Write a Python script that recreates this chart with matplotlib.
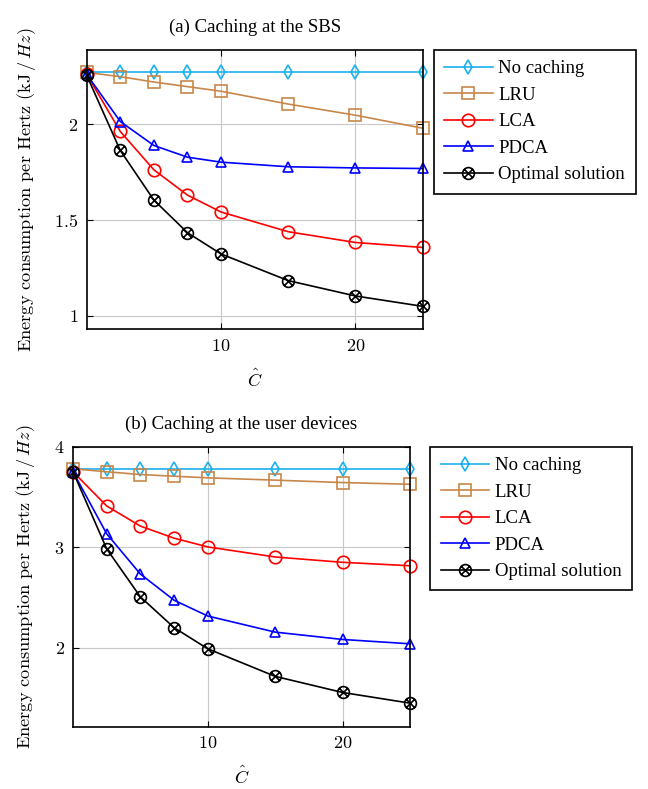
"""
Energy consumption per Hertz vs cache size, two panels.
"""

import matplotlib
matplotlib.use("Agg")
import matplotlib.pyplot as plt
from matplotlib.path import Path
import numpy as np

plt.rcParams['font.family'] = ['Liberation Serif', 'DejaVu Serif']
plt.rcParams['mathtext.fontset'] = 'cm'

cache_sizes = [0, 2.5, 5, 7.5, 10, 15, 20, 25]

# (a) caching at the SBS
sbs_no_caching = [2.27, 2.27, 2.27, 2.27, 2.27, 2.27, 2.27, 2.27]
sbs_lru = [2.27, 2.248, 2.22, 2.196, 2.172, 2.105, 2.047, 1.979]
sbs_lca = [2.26, 1.962, 1.762, 1.63, 1.542, 1.439, 1.383, 1.357]
sbs_pdca = [2.26, 2.014, 1.889, 1.828, 1.802, 1.778, 1.772, 1.769]
sbs_optimal = [2.255, 1.863, 1.604, 1.434, 1.323, 1.184, 1.104, 1.05]

# (b) caching at the user devices
ue_no_caching = [3.78, 3.78, 3.78, 3.78, 3.78, 3.78, 3.78, 3.78]
ue_lru = [3.78, 3.75, 3.723, 3.706, 3.69, 3.667, 3.643, 3.626]
ue_lca = [3.75, 3.41, 3.21, 3.09, 3.003, 2.903, 2.85, 2.816]
ue_pdca = [3.75, 3.133, 2.733, 2.473, 2.316, 2.156, 2.083, 2.04]
ue_optimal = [3.75, 2.983, 2.506, 2.2, 1.99, 1.716, 1.556, 1.45]

labels = ["No caching", "LRU", "LCA", "PDCA", "Optimal solution"]

# circle with a cross inside (otimes)
c = Path.unit_circle()
d = 0.707
cross = Path([(-d, -d), (d, d), (-d, d), (d, -d)],
             [Path.MOVETO, Path.LINETO, Path.MOVETO, Path.LINETO])
otimes = Path.make_compound_path(c, cross)

styles = [
    dict(color='#1CB0EC', marker='d', markersize=7.5),
    dict(color='#C8874A', marker='s', markersize=9),
    dict(color='#FF0000', marker='o', markersize=9),
    dict(color='#0000FF', marker='^', markersize=7.5),
    dict(color='black', marker=otimes, markersize=8.5),
]


def draw_panel(ax, series, title, yticks, ylim, legend_x):
    for vals, lab, st in zip(series, labels, styles):
        ax.plot(cache_sizes, vals, label=lab, lw=1.2, mfc='none', mew=1.2,
                clip_on=False, zorder=3, **st)
    ax.set_xlim(0, 25)
    ax.set_ylim(*ylim)
    ax.set_xticks([10, 20])
    ax.set_xticklabels(['$10$', '$20$'])
    ax.set_yticks(yticks)
    ax.set_yticklabels(['$%g$' % t for t in yticks])
    ax.tick_params(direction='in', top=True, right=True, length=4,
                   labelsize=13, width=0.8, pad=6)
    ax.grid(color='#c8c8c8', lw=0.8)
    ax.set_axisbelow(True)
    for sp in ax.spines.values():
        sp.set_linewidth(1.2)
        sp.set_zorder(4)
    ax.set_title(title, fontsize=13.5, pad=13)
    ax.set_xlabel(r'$\hat{C}$', fontsize=13, labelpad=10)
    ax.set_ylabel(r'Energy consumption per Hertz (kJ$\,/\,Hz$)',
                  fontsize=13.2, family='cmr10', labelpad=12)
    leg = ax.legend(loc='upper left', bbox_to_anchor=(legend_x, 1.0),
                    borderaxespad=0, fancybox=False, edgecolor='black',
                    fontsize=13.5, handlelength=2.6, handletextpad=0.3,
                    labelspacing=0.5, borderpad=0.55, framealpha=1)
    leg.get_frame().set_linewidth(1.2)


fig = plt.figure(figsize=(6.48, 7.89), dpi=100)
ax1 = fig.add_axes([0.1338, 0.5826, 0.5185, 0.354])
ax2 = fig.add_axes([0.1127, 0.079, 0.520, 0.3549])

draw_panel(ax1, [sbs_no_caching, sbs_lru, sbs_lca, sbs_pdca, sbs_optimal],
           "(a) Caching at the SBS", [1, 1.5, 2], (0.93, 2.387), 1.033)
draw_panel(ax2, [ue_no_caching, ue_lru, ue_lca, ue_pdca, ue_optimal],
           "(b) Caching at the user devices", [2, 3, 4], (1.216, 4.0), 1.06)

plt.savefig("out.png", dpi=100)
